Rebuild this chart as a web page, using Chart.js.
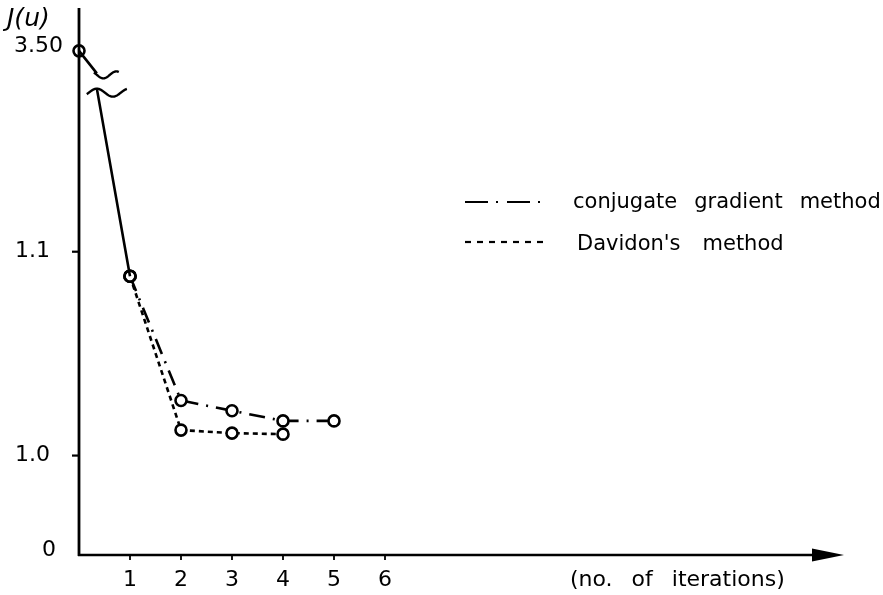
<!DOCTYPE html>
<html>
<head>
<meta charset="utf-8">
<script src="https://cdn.jsdelivr.net/npm/chart.js@4/dist/chart.umd.min.js"></script>
<style>
  html, body { margin: 0; padding: 0; background: #fff; }
  #wrap { width: 883px; height: 595px; }
</style>
</head>
<body>
<div id="wrap"><canvas id="chart" width="883" height="595"></canvas></div>
<script>
// ---- data: J(u) against number of iterations ----
const startIteration = 0;
const startValue = 3.50;
const conjugateIter = [1, 2, 3, 4, 5];
const conjugateJ = [1.088, 1.027, 1.022, 1.017, 1.017];
const davidonIter = [1, 2, 3, 4];
const davidonJ = [1.088, 1.0125, 1.011, 1.0105];
const xTickValues = [1, 2, 3, 4, 5, 6];
const xTickLabels = ['1', '2', '3', '4', '5', '6'];
const yTickValues = [0, 1.0, 1.1, 3.50];
const yTickLabels = ['0', '1.0', '1.1', '3.50'];
const seriesNames = ['conjugate gradient method', "Davidon's method"];
const xTitleWords = ['(no.', 'of', 'iterations)'];

// ---- broken vertical axis: 1.0..1.1 is true scale, the rest is compressed ----
function toAxis(v) {
  if (v < 1.0) return 0.95122 + v * 0.04878;
  if (v > 1.1) return 1.1 + (v - 1.1) * (0.09854 / 2.4);
  return v;
}
// where the descending line is interrupted by the break symbol (axis units)
const BREAK = { x: 0.35, above: 1.1875, below: 1.18 };

const FONT = '"DejaVu Sans", sans-serif';
const INK = '#000';
const CG_DASH = [16, 8, 2, 8];
const DV_DASH = [5, 4];

const pt = (xs, ys) => xs.map((x, i) => ({ x, y: toAxis(ys[i]) }));

const base = {
  borderColor: INK,
  borderWidth: 2.6,
  pointRadius: 5.5,
  pointBorderWidth: 2.6,
  pointBorderColor: INK,
  pointBackgroundColor: '#fff',
  tension: 0,
  clip: false,
  spanGaps: false
};

const datasets = [
  Object.assign({}, base, {
    label: 'descent',
    data: [
      { x: startIteration, y: toAxis(startValue) },
      { x: BREAK.x, y: BREAK.above },
      { x: BREAK.x, y: null },
      { x: BREAK.x, y: BREAK.below },
      { x: conjugateIter[0], y: toAxis(conjugateJ[0]) }
    ],
    pointRadius: [5.5, 0, 0, 0, 5.5],
    pointBackgroundColor: 'rgba(0,0,0,0)'
  }),
  Object.assign({}, base, {
    label: seriesNames[0],
    data: pt(conjugateIter, conjugateJ),
    borderDash: CG_DASH
  }),
  Object.assign({}, base, {
    label: seriesNames[1],
    data: pt(davidonIter, davidonJ),
    borderDash: DV_DASH
  })
];

function wave(ctx, x0, x1, f) {
  ctx.beginPath();
  for (let x = x0; x <= x1; x += 0.5) {
    if (x === x0) ctx.moveTo(x, f(x)); else ctx.lineTo(x, f(x));
  }
  ctx.stroke();
}

function words(ctx, list, x, y, gap) {
  let cx = x;
  list.forEach(w => {
    ctx.fillText(w, cx, y);
    cx += ctx.measureText(w).width + gap;
  });
}

const decorations = {
  id: 'decorations',
  afterDatasetsDraw(chart) {
    const ctx = chart.ctx;
    const xs = chart.scales.x, ys = chart.scales.y;
    const area = chart.chartArea;
    const ox = xs.getPixelForValue(0);
    const oy = ys.getPixelForValue(toAxis(0));
    ctx.save();
    ctx.strokeStyle = INK;
    ctx.fillStyle = INK;
    ctx.lineCap = 'butt';

    // vertical axis
    ctx.lineWidth = 2.8;
    ctx.beginPath();
    ctx.moveTo(ox, area.top);
    ctx.lineTo(ox, oy + 1);
    ctx.stroke();

    // horizontal axis with arrow
    const tip = area.right;
    ctx.lineWidth = 2.6;
    ctx.beginPath();
    ctx.moveTo(ox - 1, oy);
    ctx.lineTo(tip - 30, oy);
    ctx.stroke();
    ctx.beginPath();
    ctx.moveTo(tip, oy);
    ctx.lineTo(tip - 32, oy - 6.5);
    ctx.lineTo(tip - 32, oy + 6.5);
    ctx.closePath();
    ctx.fill();

    // x ticks and labels
    ctx.lineWidth = 1.8;
    ctx.font = '22px ' + FONT;
    ctx.textAlign = 'center';
    ctx.textBaseline = 'middle';
    xTickValues.forEach((v, i) => {
      const px = xs.getPixelForValue(v);
      ctx.beginPath();
      ctx.moveTo(px, oy);
      ctx.lineTo(px, oy + 5);
      ctx.stroke();
      ctx.fillText(xTickLabels[i], px, oy + 25);
    });

    // y ticks and labels
    ctx.textAlign = 'right';
    yTickValues.forEach((v, i) => {
      const py = ys.getPixelForValue(toAxis(v));
      if (v === 1.0 || v === 1.1) {
        ctx.lineWidth = 2.2;
        ctx.beginPath();
        ctx.moveTo(ox - 7, py);
        ctx.lineTo(ox, py);
        ctx.stroke();
      }
      let rx = ox - 29, dy = 0;
      if (v === 0) { rx = ox - 23; dy = -5; }
      if (v === 3.50) { rx = ox - 16; dy = -5; }
      ctx.fillText(yTickLabels[i], rx, py + dy);
    });

    // axis titles
    ctx.textAlign = 'left';
    ctx.font = 'italic 25px ' + FONT;
    ctx.fillText('J(u)', 7, 19);
    ctx.font = '22px ' + FONT;
    words(ctx, xTitleWords, 570, oy + 25, 19);

    // break symbol on the descending line
    const bx = xs.getPixelForValue(BREAK.x);
    const bTop = ys.getPixelForValue(BREAK.above);
    const bBot = ys.getPixelForValue(BREAK.below);
    ctx.lineWidth = 2.4;
    wave(ctx, bx - 3, bx + 22, x => bTop + 1.5 + 3.5 * Math.sin(2 * Math.PI * (x - bx) / 26));
    wave(ctx, bx - 10, bx + 30, x => bBot + 4 - 4 * Math.sin(2 * Math.PI * (x - (bx - 8)) / 32));

    // legend
    const lx0 = 465, lx1 = 546, ly = [202, 242];
    ctx.lineWidth = 2.2;
    [[23, 8, 2, 9], [6, 6]].forEach((dash, i) => {
      ctx.setLineDash(dash);
      ctx.beginPath();
      ctx.moveTo(lx0, ly[i]);
      ctx.lineTo(lx1, ly[i]);
      ctx.stroke();
    });
    ctx.setLineDash([]);
    ctx.font = '21px ' + FONT;
    ctx.textBaseline = 'alphabetic';
    words(ctx, seriesNames[0].split(' '), 573, ly[0] + 6, 17);
    words(ctx, seriesNames[1].split(' '), 577, ly[1] + 8, 22);

    ctx.restore();
  }
};

new Chart(document.getElementById('chart'), {
  type: 'line',
  data: { datasets },
  options: {
    responsive: false,
    devicePixelRatio: 1,
    animation: false,
    layout: { padding: { left: 79, right: 39, top: 5, bottom: 40 } },
    scales: {
      x: { type: 'linear', display: false, min: 0, max: 15 },
      y: { type: 'linear', display: false, min: 0.95122, max: 1.21951 }
    },
    plugins: { legend: { display: false }, tooltip: { enabled: false } }
  },
  plugins: [decorations]
});
</script>
</body>
</html>
